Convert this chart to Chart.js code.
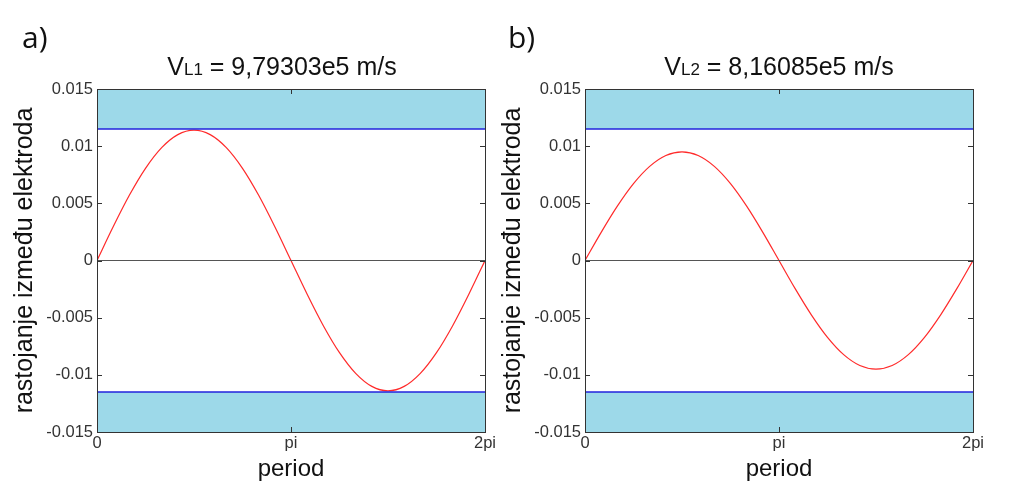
<!DOCTYPE html>
<html>
<head>
<meta charset="utf-8">
<script src="https://cdn.jsdelivr.net/npm/chart.js@4"></script>
<style>
  body { margin: 0; background: #fff; }
  #wrap { position: relative; width: 1024px; height: 486px; overflow: hidden; }
  .panel { position: absolute; top: 0; width: 500px; height: 486px; }
  .panel canvas { position: absolute; left: 0; top: 0; }
  .tag { position: absolute; top: 16px; font: 30px "Open Sans", sans-serif; color: #111; }
  .ttl { position: absolute; top: 52px; width: 400px; text-align: center;
         font: 25px "Liberation Sans", Arial, sans-serif; color: #111; }
  .ttl span { font-size: 17px; }
</style>
</head>
<body>
<div id="wrap">
  <div class="panel" style="left:0px">
    <canvas id="chartA" width="500" height="486"></canvas>
    <div class="tag" style="left:22px">a)</div>
    <div class="ttl" style="left:82px">V<span>L1</span> = 9,79303e5 m/s</div>
  </div>
  <div class="panel" style="left:488px">
    <canvas id="chartB" width="500" height="486"></canvas>
    <div class="tag" style="left:20px">b)</div>
    <div class="ttl" style="left:91px">V<span>L2</span> = 8,16085e5 m/s</div>
  </div>
</div>
<script>
// phase in degrees over one period
var phase = [0, 15, 30, 45, 60, 75, 90, 105, 120, 135, 150, 165, 180,
             195, 210, 225, 240, 255, 270, 285, 300, 315, 330, 345, 360];
// distance between electrodes
var distA = [0, 0.00295, 0.0057, 0.00806, 0.00987, 0.01101, 0.0114, 0.01101, 0.00987, 0.00806, 0.0057, 0.00295, 0,
             -0.00295, -0.0057, -0.00806, -0.00987, -0.01101, -0.0114, -0.01101, -0.00987, -0.00806, -0.0057, -0.00295, 0];
var distB = [0, 0.00246, 0.00475, 0.00672, 0.00823, 0.00918, 0.0095, 0.00918, 0.00823, 0.00672, 0.00475, 0.00246, 0,
             -0.00246, -0.00475, -0.00672, -0.00823, -0.00918, -0.0095, -0.00918, -0.00823, -0.00672, -0.00475, -0.00246, 0];
// electrode positions
var electrodeTop = 0.0115;
var electrodeBottom = -0.0115;
var xTickValues = [0, 180, 360];
var xTickLabels = ['0', 'pi', '2pi'];
var yTickValues = [0.015, 0.01, 0.005, 0, -0.005, -0.01, -0.015];
var yTickLabels = ['0.015', '0.01', '0.005', '0', '-0.005', '-0.01', '-0.015'];

// frame round the plot area plus short inward ticks, matlab style
var framePlugin = {
  id: 'frame',
  afterDraw: function(chart) {
    var ctx = chart.ctx, a = chart.chartArea;
    var xs = chart.scales.x, ys = chart.scales.y;
    ctx.save();
    ctx.strokeStyle = '#333';
    ctx.lineWidth = 1;
    ctx.beginPath();
    yTickValues.forEach(function(v) {
      var py = Math.round(ys.getPixelForValue(v)) + 0.5;
      ctx.moveTo(a.left, py); ctx.lineTo(a.left + 5, py);
      ctx.moveTo(a.right, py); ctx.lineTo(a.right - 5, py);
    });
    xTickValues.forEach(function(v) {
      var px = Math.round(xs.getPixelForValue(v)) + 0.5;
      ctx.moveTo(px, a.top); ctx.lineTo(px, a.top + 5);
      ctx.moveTo(px, a.bottom); ctx.lineTo(px, a.bottom - 5);
    });
    ctx.stroke();
    ctx.strokeRect(Math.round(a.left) + 0.5, Math.round(a.top) + 0.5,
                   Math.round(a.right - a.left), Math.round(a.bottom - a.top));
    ctx.restore();
  }
};

function flat(v) {
  return [{ x: phase[0], y: v }, { x: phase[phase.length - 1], y: v }];
}

function makeChart(id, dist) {
  var ctx = document.getElementById(id).getContext('2d');
  return new Chart(ctx, {
    type: 'line',
    data: {
      datasets: [{
        data: flat(electrodeTop),
        borderColor: '#2222dd', borderWidth: 1.5,
        backgroundColor: '#9dd9e9', fill: 'end', pointRadius: 0
      }, {
        data: flat(electrodeBottom),
        borderColor: '#2222dd', borderWidth: 1.5,
        backgroundColor: '#9dd9e9', fill: 'start', pointRadius: 0
      }, {
        data: flat(0),
        borderColor: '#555', borderWidth: 1, fill: false, pointRadius: 0
      }, {
        data: phase.map(function(p, i) { return { x: p, y: dist[i] }; }),
        borderColor: '#ff2a2a', borderWidth: 1.2, fill: false, pointRadius: 0,
        cubicInterpolationMode: 'monotone'
      }]
    },
    options: {
      responsive: false,
      animation: false,
      layout: { padding: { top: 89, right: 15, left: 0, bottom: 0 } },
      plugins: { legend: { display: false }, tooltip: { enabled: false } },
      scales: {
        x: {
          type: 'linear', min: 0, max: 360,
          afterBuildTicks: function(s) { s.ticks = xTickValues.map(function(v) { return { value: v }; }); },
          afterFit: function(s) { s.height = 54; },
          grid: { display: false, drawTicks: false },
          border: { display: false },
          ticks: {
            padding: 2, maxRotation: 0, color: '#333',
            font: { family: 'Liberation Sans', size: 16.5 },
            callback: function(v) { return xTickLabels[xTickValues.indexOf(v)]; }
          },
          title: {
            display: true, text: 'period', color: '#111',
            font: { family: 'Liberation Sans', size: 24 },
            padding: { top: 0, bottom: 2 }
          }
        },
        y: {
          min: -0.015, max: 0.015,
          afterBuildTicks: function(s) { s.ticks = yTickValues.map(function(v) { return { value: v }; }); },
          afterFit: function(s) { s.width = 97; },
          grid: { display: false, drawTicks: false },
          border: { display: false },
          ticks: {
            padding: 4, color: '#333',
            font: { family: 'Liberation Sans', size: 16.5 },
            callback: function(v) { return yTickLabels[yTickValues.indexOf(v)]; }
          },
          title: {
            display: true, text: 'rastojanje između elektroda', color: '#111',
            font: { family: 'Liberation Sans', size: 25 },
            padding: { top: 10, bottom: 0 }
          }
        }
      }
    },
    plugins: [framePlugin]
  });
}

makeChart('chartA', distA);
makeChart('chartB', distB);
</script>
</body>
</html>
